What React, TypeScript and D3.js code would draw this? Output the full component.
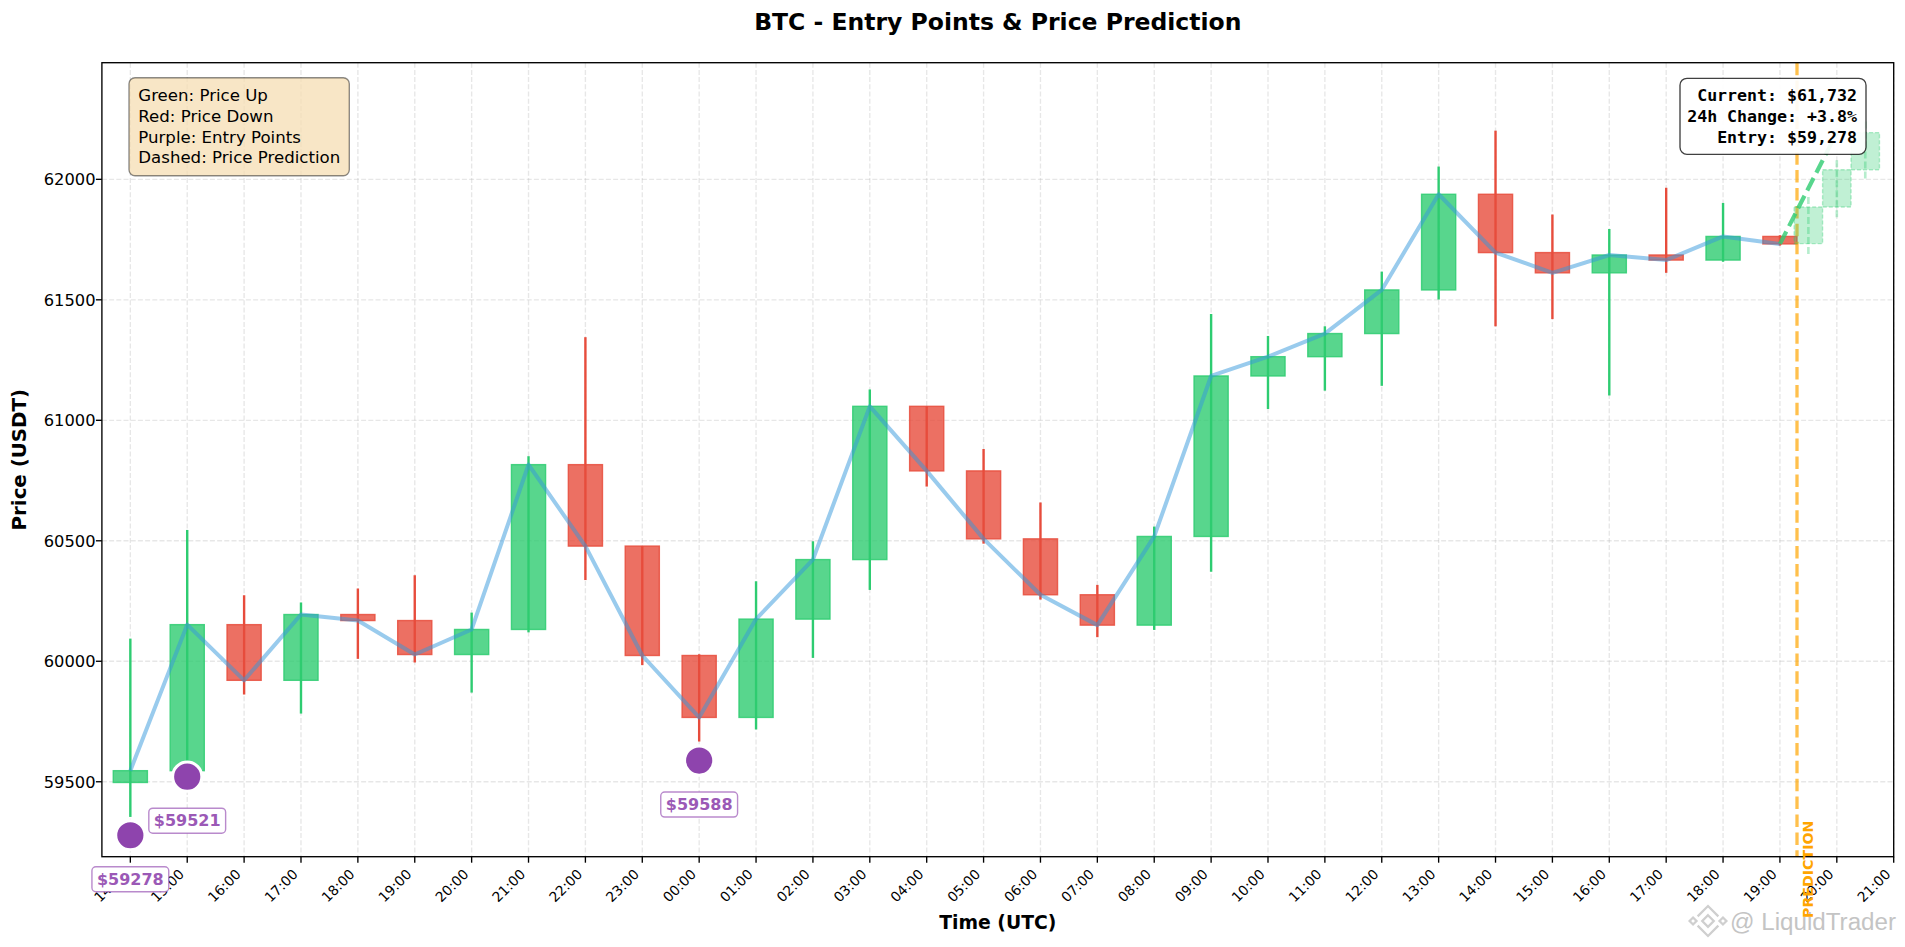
import React from "react";
import * as d3 from "d3";

// ---------- data ----------
const tickLabels = [
  "14:00","15:00","16:00","17:00","18:00","19:00","20:00","21:00","22:00","23:00",
  "00:00","01:00","02:00","03:00","04:00","05:00","06:00","07:00","08:00","09:00",
  "10:00","11:00","12:00","13:00","14:00","15:00","16:00","17:00","18:00","19:00",
  "20:00","21:00",
];
// candle times as hours since first tick (14:00)
const candleHours = d3.range(30);
const opens = [
  59497, 59546, 60152, 59921, 60194, 60169, 60028, 60132, 60816, 60478,
  60024, 59767, 60175, 60422, 61058, 60790, 60508, 60276, 60150, 60518,
  61184, 61264, 61360, 61541, 61938, 61696, 61612, 61686, 61665, 61763,
];
const closes = [
  59546, 60152, 59921, 60194, 60169, 60028, 60132, 60816, 60478, 60024,
  59767, 60175, 60422, 61058, 60790, 60508, 60276, 60150, 60518, 61184,
  61264, 61360, 61541, 61938, 61696, 61612, 61686, 61665, 61763, 61732,
];
const highs = [
  60094, 60545, 60274, 60244, 60302, 60357, 60202, 60851, 61345, 60478,
  60029, 60332, 60498, 61128, 61058, 60881, 60659, 60317, 60559, 61441,
  61350, 61390, 61617, 62053, 62202, 61854, 61794, 61965, 61902, 61768,
];
const lows = [
  59354, 59530, 59862, 59783, 60010, 59995, 59870, 60120, 60337, 59984,
  59667, 59717, 60014, 60296, 60725, 60488, 60256, 60100, 60130, 60372,
  61047, 61123, 61143, 61501, 61390, 61420, 61103, 61612, 61658, 61725,
];
// predicted candles (19:30, 20:00, 20:30)
const predHours = [29.5, 30, 30.5];
const predOpens = [61733, 61885, 62040];
const predCloses = [61885, 62040, 62194];
const predHighs = [61927, 62079, 62240];
const predLows = [61685, 61838, 61993];
// prediction trend line
const predLineHours = [29, 30];
const predLinePrices = [61732, 62194];
// entry points
const entryHours = [0, 1, 10];
const entryPrices = [59278, 59521, 59588];

const yTicks = [59500, 60000, 60500, 61000, 61500, 62000];
const legendLines = ["Green: Price Up", "Red: Price Down", "Purple: Entry Points", "Dashed: Price Prediction"];
const infoLines = ["Current: $61,732", "24h Change: +3.8%", "Entry: $59,278"];

// ---------- layout ----------
const W = 1905;
const H = 947;
const L = 101.9, R = 1893.7, T = 62.7, B = 856.7;
const GREEN = "#2ECC71";
const RED = "#E74C3C";
const FONT = "'DejaVu Sans', sans-serif";

export default function App() {
  const x = d3.scaleLinear().domain([-0.5, 31]).range([L, R]);
  const y = d3.scaleLinear().domain([59189, 62484]).range([B, T]);
  const cw = 0.6;
  const pw = 0.5;
  const predStart = candleHours[candleHours.length - 1] + cw / 2;

  const closeLine = d3
    .line<number>()
    .x((_, i) => x(candleHours[i]))
    .y((d) => y(d))(closes) as string;
  const predLine = d3
    .line<number>()
    .x((_, i) => x(predLineHours[i]))
    .y((d) => y(d))(predLinePrices) as string;

  return (
    <svg
      width={W}
      height={H}
      style={{ position: "absolute", left: 0, top: 0, background: "#fff" }}
      fontFamily={FONT}
    >
      <rect x={0} y={0} width={W} height={H} fill="#fff" />
      {/* title */}
      <text x={(L + R) / 2} y={30} textAnchor="middle" fontSize={23.5} fontWeight="bold">
        BTC - Entry Points &amp; Price Prediction
      </text>

      {/* grid */}
      <g stroke="#b0b0b0" strokeOpacity={0.3} strokeWidth={1.35} strokeDasharray="5,2.2">
        {yTicks.map((t) => (
          <line key={"gy" + t} x1={L} x2={R} y1={y(t)} y2={y(t)} />
        ))}
        {tickLabels.map((_, i) => (
          <line key={"gx" + i} x1={x(i)} x2={x(i)} y1={T} y2={B} />
        ))}
      </g>

      {/* candles */}
      {candleHours.map((h, i) => {
        const up = closes[i] >= opens[i];
        const col = up ? GREEN : RED;
        const top = y(Math.max(opens[i], closes[i]));
        const bot = y(Math.min(opens[i], closes[i]));
        return (
          <g key={"c" + i}>
            <line x1={x(h)} x2={x(h)} y1={y(highs[i])} y2={y(lows[i])} stroke={col} strokeWidth={2.4} />
            <rect
              x={x(h - cw / 2)}
              y={top}
              width={x(h + cw / 2) - x(h - cw / 2)}
              height={Math.max(bot - top, 1)}
              fill={col}
              fillOpacity={0.8}
              stroke={col}
              strokeOpacity={0.85}
              strokeWidth={1.4}
            />
          </g>
        );
      })}

      {/* close line */}
      <path d={closeLine} fill="none" stroke="#3498DB" strokeOpacity={0.5} strokeWidth={4} strokeLinejoin="round" />

      {/* prediction vertical line */}
      <line
        x1={x(predStart)}
        x2={x(predStart)}
        y1={T}
        y2={B}
        stroke="#FFA500"
        strokeOpacity={0.7}
        strokeWidth={3.3}
        strokeDasharray="12.5,5.4"
      />

      {/* predicted candles */}
      {predHours.map((h, i) => {
        const top = y(Math.max(predOpens[i], predCloses[i]));
        const bot = y(Math.min(predOpens[i], predCloses[i]));
        return (
          <g key={"p" + i}>
            <line
              x1={x(h)}
              x2={x(h)}
              y1={y(predHighs[i])}
              y2={y(predLows[i])}
              stroke={GREEN}
              strokeOpacity={0.35}
              strokeWidth={2.6}
              strokeDasharray="7,3"
            />
            <rect
              x={x(h - pw / 2)}
              y={top}
              width={x(h + pw / 2) - x(h - pw / 2)}
              height={bot - top}
              fill={GREEN}
              fillOpacity={0.3}
              stroke={GREEN}
              strokeOpacity={0.35}
              strokeWidth={1.4}
              strokeDasharray="4,2"
            />
          </g>
        );
      })}
      <path d={predLine} fill="none" stroke={GREEN} strokeOpacity={0.8} strokeWidth={4.2} strokeDasharray="14,6" />

      {/* axes frame */}
      <rect x={L} y={T} width={R - L} height={B - T} fill="none" stroke="#000" strokeWidth={1.35} />

      {/* y ticks */}
      {yTicks.map((t) => (
        <g key={"yt" + t}>
          <line x1={L - 6} x2={L} y1={y(t)} y2={y(t)} stroke="#000" strokeWidth={1.35} />
          <text x={95.5} y={y(t) + 5.8} textAnchor="end" fontSize={16.3}>
            {t}
          </text>
        </g>
      ))}
      {/* x ticks */}
      {tickLabels.map((lab, i) => (
        <g key={"xt" + i}>
          <line x1={x(i)} x2={x(i)} y1={B} y2={B + 6} stroke="#000" strokeWidth={1.35} />
          <text
            transform={`translate(${x(i) - 2.3},${875}) rotate(-45)`}
            textAnchor="end"
            fontSize={13.8}
          >
            {lab}
          </text>
        </g>
      ))}

      {/* axis labels */}
      <text x={(L + R) / 2} y={929.3} textAnchor="middle" fontSize={18.8} fontWeight="bold">
        Time (UTC)
      </text>
      <text transform={`translate(26,${(T + B) / 2}) rotate(-90)`} textAnchor="middle" fontSize={19.8} fontWeight="bold">
        Price (USDT)
      </text>

      {/* PREDICTION label */}
      <text
        transform={`translate(${x(predStart) + 15.6},918) rotate(-90)`}
        fontSize={14.2}
        fontWeight="bold"
        fill="#FFA500"
      >
        PREDICTION
      </text>

      {/* entry points */}
      {entryHours.map((h, i) => {
        const cx = x(h);
        const cy = y(entryPrices[i]);
        const label = "$" + entryPrices[i];
        const bw = label.length * 0.696 * 16 + 10;
        return (
          <g key={"e" + i}>
            <circle cx={cx} cy={cy} r={14.6} fill="#8E44AD" stroke="#fff" strokeWidth={3} />
            <rect
              x={cx - bw / 2}
              y={cy + 44 - 12.5}
              width={bw}
              height={25}
              rx={4}
              fill="#fff"
              stroke="#9B59B6"
              strokeOpacity={0.7}
              strokeWidth={1.4}
            />
            <text x={cx} y={cy + 44 + 5.8} textAnchor="middle" fontSize={16} fontWeight="bold" fill="#9B59B6">
              {label}
            </text>
          </g>
        );
      })}

      {/* legend box */}
      <rect x={129} y={77.7} width={220.3} height={98} rx={6} fill="#F5DEB3" fillOpacity={0.75} stroke="#000" strokeOpacity={0.45} strokeWidth={1.35} />
      {legendLines.map((s, i) => (
        <text key={"lg" + i} x={138.3} y={100.7 + i * 20.9} fontSize={16.6}>
          {s}
        </text>
      ))}

      {/* info box */}
      <rect x={1680} y={78.3} width={186} height={76} rx={7} fill="#fff" fillOpacity={0.92} stroke="#000" strokeOpacity={0.75} strokeWidth={1.35} />
      {infoLines.map((s, i) => (
        <text
          key={"in" + i}
          x={1857}
          y={101 + i * 20.8}
          textAnchor="end"
          fontSize={16.6}
          fontWeight="bold"
          fontFamily="'DejaVu Sans Mono', monospace"
        >
          {s}
        </text>
      ))}

      {/* watermark */}
      <g transform="translate(1708,921) scale(1.15)" fill="none" stroke="#cfcfcf" strokeWidth={2}>
        <path d="M0,-5 L5,0 L0,5 L-5,0 Z" />
        <path d="M-9,-4 L0,-13 L9,-4" />
        <path d="M-9,4 L0,13 L9,4" />
        <path d="M-13,-3 L-10,0 L-13,3 L-16,0 Z" />
        <path d="M13,-3 L16,0 L13,3 L10,0 Z" />
      </g>
      <text
        x={1730}
        y={930}
        fontSize={23}
        fill="#c4c4c4"
        fontFamily="'Liberation Sans', Arial, sans-serif"
        textLength={166}
        lengthAdjust="spacingAndGlyphs"
      >
        @ LiquidTrader
      </text>
    </svg>
  );
}
